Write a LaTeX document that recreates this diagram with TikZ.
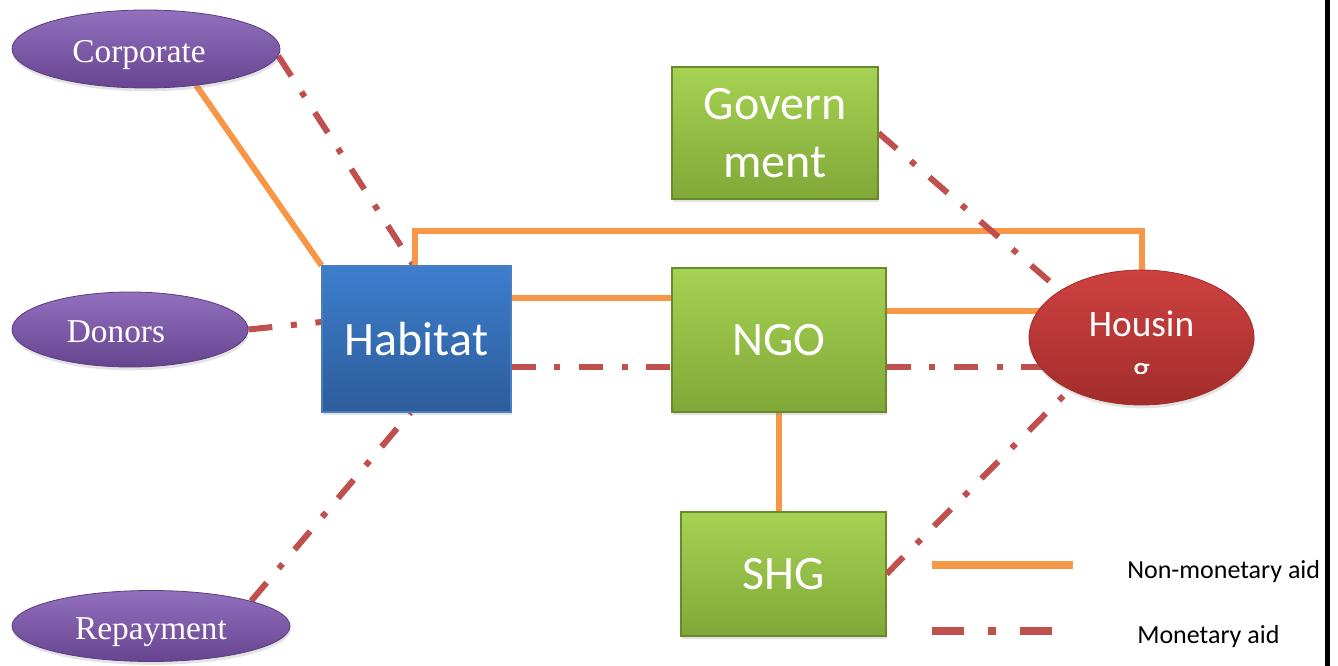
\documentclass[tikz,border=0pt]{standalone}
\usepackage{fontspec}
\setmainfont{Carlito}
\newfontfamily\ovalfont{Liberation Serif}
\usetikzlibrary{calc,shapes.geometric,shadows}
\pgfdeclarelayer{background}
\pgfsetlayers{background,main}

\definecolor{aidorange}{HTML}{F79646}
\definecolor{aidred}{HTML}{C0504D}
\definecolor{ovaltop}{HTML}{9270BE}
\definecolor{ovalbot}{HTML}{66448F}
\definecolor{ovaledge}{HTML}{5A3C80}
\definecolor{habtop}{HTML}{3D7ECC}
\definecolor{habbot}{HTML}{2D5C9B}
\definecolor{habedge}{HTML}{4A7FBF}
\definecolor{agtop}{HTML}{A6D253}
\definecolor{agbot}{HTML}{80A838}
\definecolor{agedge}{HTML}{688A2C}
\definecolor{houstop}{HTML}{CD4140}
\definecolor{housbot}{HTML}{A22D2B}

\tikzset{every picture/.style={line width=0.75pt}}
\tikzset{
  softshadow/.style={drop shadow={opacity=0.22,shadow xshift=0.6pt,shadow yshift=-2.5pt}},
  source/.style={ellipse,top color=ovaltop,bottom color=ovalbot,draw=ovaledge,line width=0.6pt,
    softshadow,text=white,font=\ovalfont\fontsize{25}{30}\selectfont,
    text height=20pt,text depth=0pt,inner sep=0pt},
  hubbox/.style={rectangle,top color=habtop,bottom color=habbot,draw=habedge,line width=0.8pt,
    softshadow,text=white,font=\fontsize{36}{43}\selectfont,inner sep=0pt},
  agency/.style={rectangle,top color=agtop,bottom color=agbot,draw=agedge,line width=0.8pt,
    softshadow,text=white,font=\fontsize{36}{43}\selectfont,align=center,inner sep=0pt},
  target/.style={ellipse,top color=houstop,bottom color=housbot,draw=housbot,line width=0.6pt,
    softshadow,inner sep=0pt},
  houslabel/.style={text=white,font=\fontsize{28}{34}\selectfont,inner sep=0pt},
  legtext/.style={text=black,font=\fontsize{19.5}{23}\selectfont,inner sep=0pt},
  nonmon/.style={draw=aidorange,line width=4.5pt},
  monaid/.style={draw=aidred,line width=4.5pt,dash pattern=on 18pt off 14pt on 4.5pt off 14pt},
}

\begin{document}
\begin{tikzpicture}[x=0.75pt,y=0.75pt,yscale=-1,xscale=1]
\useasboundingbox (0,0) rectangle (1338,666);

\node[source,minimum width=201pt,minimum height=58.5pt] (corp) at (146,49) {Corporate\kern10.5pt};
\node[source,minimum width=177pt,minimum height=56.25pt] (donors) at (130,329.5) {Donors\kern21pt};
\node[source,minimum width=208.5pt,minimum height=53.25pt] (repay) at (151,626) {Repayment};

\node[hubbox,minimum width=141.75pt,minimum height=109.5pt] (habitat) at (416.5,339) {Habitat};
\node[agency,minimum width=154.5pt,minimum height=99pt] (gov) at (775,133) {Govern\\ment};
\node[agency,minimum width=160.5pt,minimum height=108pt] (ngo) at (779,340) {NGO};
\node[agency,minimum width=153.75pt,minimum height=93pt] (shg) at (783.5,574) {SHG};

\node[target,minimum width=168.75pt,minimum height=101.25pt] (housing) at (1141.5,337.5) {};
\node[houslabel,anchor=base] (houstext) at (1141.5,337) {Housin};
\begin{scope}
\clip (1029,340) rectangle (1254,374);
\node[houslabel,anchor=base] (houstail) at (1141.5,382) {g};
\end{scope}

\begin{pgfonlayer}{background}
\draw[nonmon] (corp.-36) -- (habitat.north west);
\draw[monaid] (corp.-3) -- ($(habitat.north)+(-3,0)$);
\draw[monaid] (donors.east) -- ($(habitat.west)+(0,-17)$);
\draw[monaid] (repay.14) -- ($(habitat.south)+(-6,0)$);
\draw[nonmon,line join=miter] ($(habitat.north)+(-1.5,0)$) -- ++(0,-34) -| (housing.north);
\draw[nonmon] ($(habitat.east)+(0,-41)$) -- ($(ngo.west)+(0,-42)$);
\draw[monaid] ($(habitat.east)+(0,28)$) -- ($(ngo.west)+(0,27)$);
\draw[nonmon] ($(ngo.east)+(0,-29)$) coordinate (ngoup) -- (ngoup -| housing.center);
\draw[monaid] ($(ngo.east)+(0,27)$) coordinate (ngodown) -- (ngodown -| housing.center);
\draw[nonmon] (ngo.south) -- (ngo.south |- shg.north);
\draw[monaid] (gov.east) -- (housing.150);
\draw[monaid] (shg.east) -- (housing.216);
\end{pgfonlayer}

\coordinate (nmA) at (932,565);
\coordinate (nmB) at (1073,565);
\draw[nonmon,line width=6pt] (nmA) -- (nmB);
\node[legtext,anchor=base west] (nmtext) at (1127,578) {Non-monetary aid};
\coordinate (mA) at (932,631);
\coordinate (mB) at (1052,631);
\draw[monaid,line width=6pt,dash pattern=on 24pt off 18pt on 6pt off 18pt] (mA) -- (mB);
\node[legtext,anchor=base west] (mtext) at (1137,643) {Monetary aid};

\fill[black] (1325,0) rectangle (1330,666);

\end{tikzpicture}
\end{document}
